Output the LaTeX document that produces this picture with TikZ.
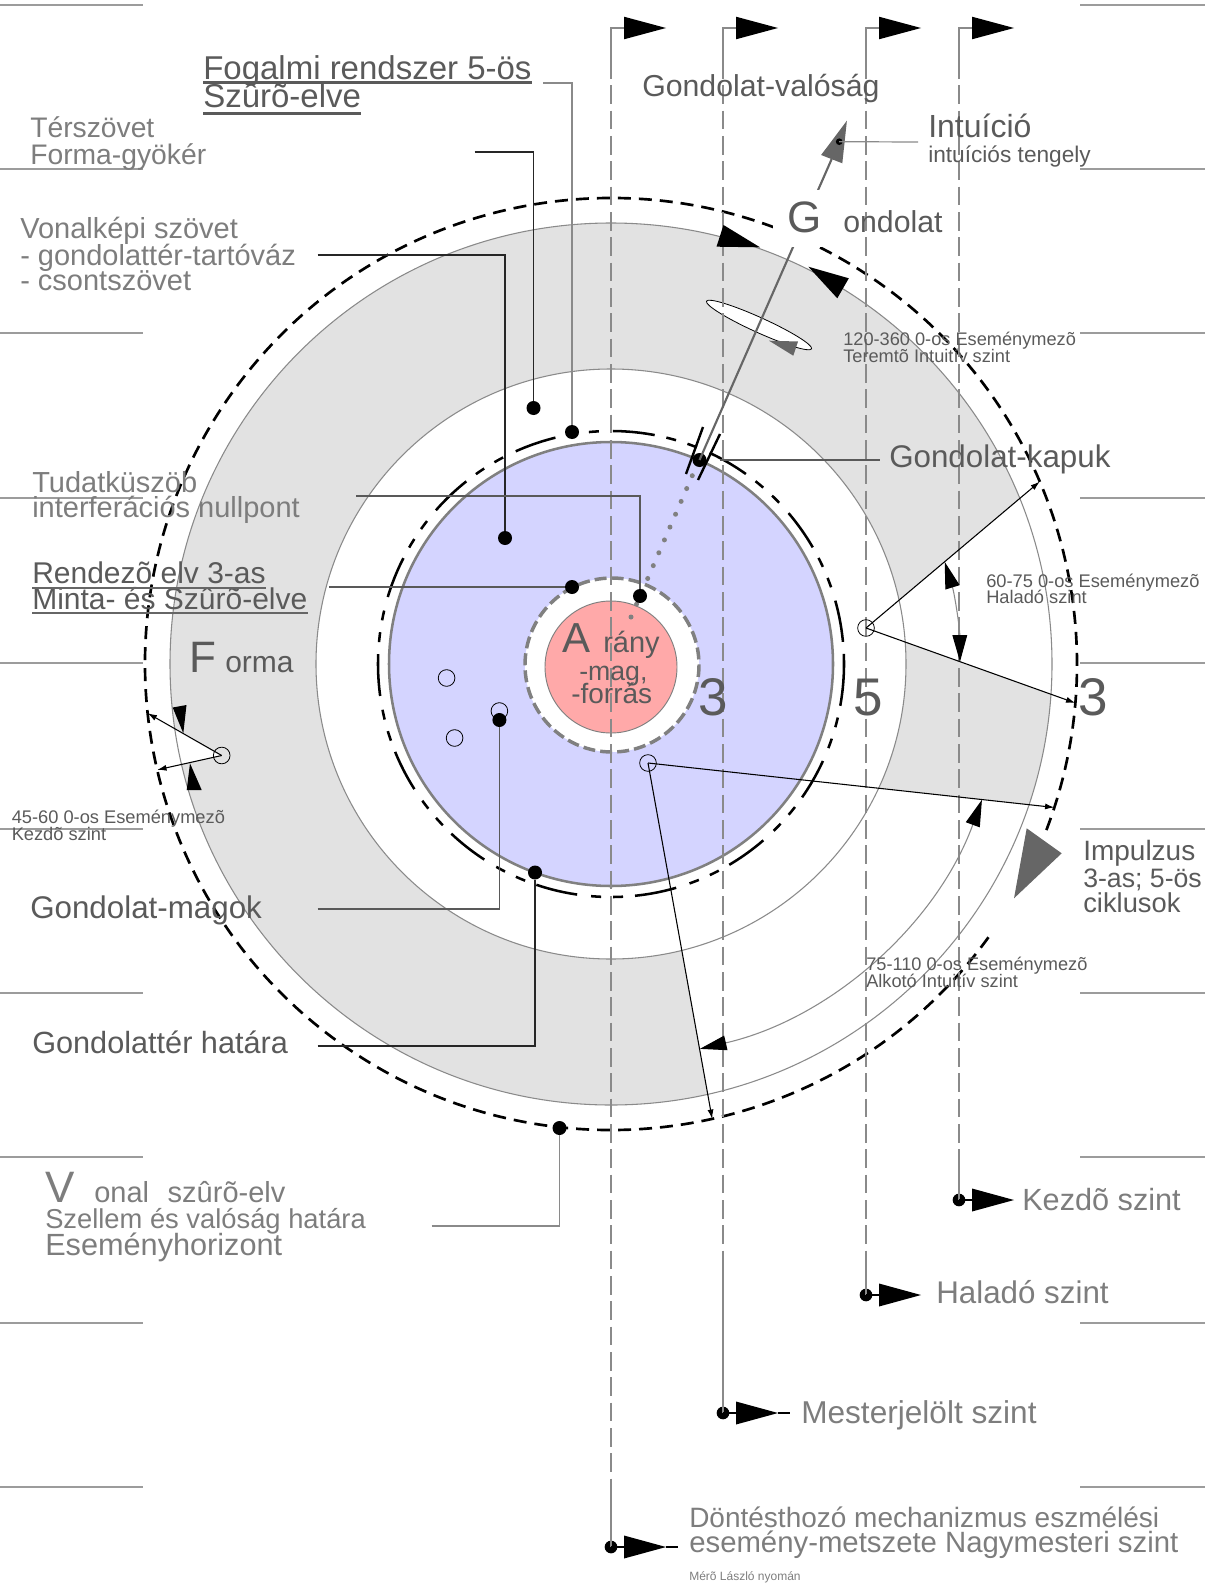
\documentclass[tikz,border=0pt]{standalone}
\usepackage{fontspec}
\setmainfont{Liberation Sans}
\usetikzlibrary{arrows.meta}
\definecolor{ringgrey}{HTML}{E2E2E2}
\definecolor{bluefill}{HTML}{D4D4FF}
\definecolor{pinkfill}{HTML}{FFA9A9}
\definecolor{tdark}{HTML}{5A5A5A}
\definecolor{tlight}{HTML}{7D7D7D}
\definecolor{lgrey}{HTML}{8A8A8A}
\definecolor{agrey}{HTML}{666666}
\newcommand\fsz[1]{\fontsize{#1}{#1}\selectfont}
\begin{document}
\begin{tikzpicture}[x=0.75pt,y=-0.75pt,
  lbl/.style={anchor=base west, inner sep=0pt, text=tdark},
  lbll/.style={anchor=base west, inner sep=0pt, text=tlight},
  dot/.style={circle, fill=black, inner sep=0pt, minimum size=10.5pt},
  sdot/.style={circle, fill=black, inner sep=0pt, minimum size=9.5pt},
  hollow/.style={circle, draw=black, line width=0.6pt, inner sep=0pt, minimum size=12.5pt},
  leadk/.style={draw=black!85, line width=0.9pt},
  leadg/.style={draw=lgrey, line width=0.9pt},
  leadd/.style={draw=black!65, line width=0.9pt},
  vline/.style={draw=lgrey, line width=1pt},
  vdash/.style={draw=lgrey, line width=1pt, dash pattern=on 14pt off 5pt},
  hline/.style={draw=lgrey!85, line width=1.3pt},
  ray/.style={draw=black, line width=0.8pt, -{Latex[length=7pt,width=4.5pt]}},
  arcarr/.style={draw=lgrey, line width=0.8pt, {Triangle[length=20pt,width=11pt,color=black]}-{Triangle[length=20pt,width=11pt,color=black]}},
]
\useasboundingbox (0,0) rectangle (1205,1584);
\coordinate (C) at (611,664);
\coordinate (P1) at (866,628);
\coordinate (P2) at (648,763);
\coordinate (P3) at (221.7,755.5);

% margin lines
\foreach \yy in {5,169,333,498,663,829,993,1157,1323,1487} {
  \draw[hline] (0,\yy) -- (143,\yy);
  \draw[hline] (1080,\yy) -- (1205,\yy);
}

% grey ring with white wedges
\fill[ringgrey] (C) circle[radius=441];
\fill[white] (P1) -- ([shift={(-23.05:466)}]C) arc[start angle=-23.05,end angle=4.8,radius=466] -- cycle;
\fill[white] (P2) -- ([shift={(17.93:466)}]C) arc[start angle=17.93,end angle=77.46,radius=466] -- cycle;
\fill[white] (P3) -- ([shift={(166.87:466)}]C) arc[start angle=166.87,end angle=173.94,radius=466] -- cycle;
\fill[white] (C) circle[radius=295];
\draw[lgrey, line width=0.8pt] (C) circle[radius=441];
\draw[lgrey, line width=0.8pt] (C) circle[radius=295];

% ellipse in ring
\draw[black, line width=0.6pt, fill=white, rotate around={-24.4:(759,325)}] (759,325) ellipse[x radius=57.7, y radius=7.5];
\fill[agrey] (769,340.7) -- (798,341.5) -- (793.3,355.7) -- cycle;

% blue circle and inner rings
\draw[draw=gray, line width=1.9pt, fill=bluefill] (C) circle[radius=222];
\draw[black, line width=1.9pt, dash pattern=on 31.5pt off 9pt on 7.5pt off 9pt on 7.5pt off 10.5pt] (C) circle[radius=233];
\node[hollow] (o1) at (446.6,678) {};
\node[hollow] (o2) at (454.6,738) {};
\node[hollow] (o3) at (499.4,711) {};
\draw[draw=gray, line width=2.6pt, fill=white, dash pattern=on 9pt off 3.8pt] (612,665) circle[radius=87];
\draw[draw=gray, line width=0.7pt, fill=pinkfill] (611,667) circle[radius=66];

% outer dashed circle (gap at Impulzus)
\draw[black, line width=2pt, dash pattern=on 9.75pt off 6pt] ([shift={(35.9:466)}]C) arc[start angle=35.9, end angle=381.2, radius=466];

% vertical level lines with flags
\foreach \x/\yb/\bs/\ext in {611/1547/1495/1, 723/1413/1257/1, 866/1295/1255/0, 959/1200/1150/0} {
  \node[sdot] (bd\x) at (\x,\yb) {};
  \draw[vline] (\x,60) -- (\x,28) -- ({\x+13},28);
  \fill ({\x+13},16.7) -- ({\x+55},28) -- ({\x+13},39.3) -- cycle;
  \draw[vdash] (\x,60) -- (\x,\bs);
  \draw[vline] (\x,\bs) -- (bd\x.center);
  \draw[black, line width=1pt] (bd\x.center) -- ({\x+13},\yb);
  \fill ({\x+13},{\yb-11.5}) -- ({\x+55},\yb) -- ({\x+13},{\yb+11.5}) -- cycle;
  \ifnum\ext=1 \draw[black, line width=1pt] ({\x+55},\yb) -- ({\x+67},\yb); \fi
}

% intuition axis
\node[dot] (gate) at (699.5,460) {};
\draw[gray, line width=3.75pt, line cap=round, dash pattern=on 0pt off 10.5pt] (631,617) -- (693,474);
\draw[agrey, line width=1.6pt] (gate.center) -- (831.7,159);
\draw[black, line width=1.8pt] (703,427) -- (686,474);
\draw[black, line width=1.8pt] (720,434) -- (698,480);
\fill[agrey] (846.9,120.7) -- (821.1,155) -- (842.3,163.3) -- cycle;
\node[circle, fill=black, inner sep=0pt, minimum size=5pt] (idot) at (839.2,141.7) {};
\coordinate (iL) at (918,142);
\draw[leadg] (idot.center) -- (iL);

% rays from small circles
\node[hollow] (h1) at (P1) {};
\node[hollow] (h2) at (P2) {};
\node[hollow] (h3) at (P3) {};
\draw[ray] (h1.center) -- ([shift={(-23.05:466)}]C);
\draw[ray] (h1.center) -- ([shift={(4.8:466)}]C);
\draw[ray] (h2.center) -- ([shift={(17.93:466)}]C);
\draw[ray] (h2.center) -- ([shift={(77.46:466)}]C);
\draw[ray] (h3.center) -- ([shift={(173.94:466)}]C);
\draw[ray] (h3.center) -- ([shift={(166.87:466)}]C);
\draw[arcarr] ([shift={(-17.02:349)}]C) arc[start angle=-17.02, end angle=-0.37, radius=349];
\draw[arcarr] ([shift={(20.1:395)}]C) arc[start angle=20.1, end angle=77.0, radius=395];
\fill (172.7,707.5) -- (186.5,705) -- (183.3,733.3) -- cycle;
\fill (186.7,790) -- (201.7,790) -- (190,763.3) -- cycle;

% arrows on outer ring and impulse arrow
\fill (716.5,246.7) -- (723.5,225) -- (760,247.3) -- cycle;
\fill (808.3,266.7) -- (848.8,278.3) -- (837.3,298.3) -- cycle;
\fill[agrey] (1026.7,828.3) -- (1061.7,853.3) -- (1014,898.3) -- cycle;

% dots and leaders
\node[dot] (dFog) at (572,432) {};
\node[dot] (dTer) at (533.5,408) {};
\node[dot] (dVon) at (505,538) {};
\node[dot] (dTud) at (640,596) {};
\node[dot] (dRen) at (572,587) {};
\node[dot] (dMag) at (499.4,720) {};
\node[dot] (dHat) at (535,872.5) {};
\node[dot] (dVsz) at (559.5,1128) {};
\coordinate (lFog) at (543,83);
\coordinate (lTer) at (474.5,152);
\coordinate (lVon) at (317.6,255);
\coordinate (lTud) at (356,496);
\coordinate (lRen) at (329,587);
\coordinate (lMag) at (317.6,909);
\coordinate (lHat) at (317.6,1046);
\coordinate (lVsz) at (431.7,1226);
\coordinate (lKap) at (720,460);
\coordinate (lKap2) at (880,460);
\draw[leadg] (lFog) -| (dFog);
\draw[leadk] (lTer) -| (dTer);
\draw[leadk] (lVon) -| (dVon);
\draw[leadd] (lTud) -| (dTud);
\draw[leadd] (lRen) -- (dRen);
\draw[leadd] (lMag) -| (dMag);
\draw[leadk] (lHat) -| (dHat);
\draw[leadg] (lVsz) -| (dVsz);
\draw[leadd] (lKap) -- (lKap2);

% mask behind G
\fill[white] (773,190) rectangle (822,247);

% texts
\node[lbl, font=\fsz{24.75pt}] (fog1) at (203,80) {Fogalmi rendszer 5-ös};
\node[lbl, font=\fsz{24.75pt}] (fog2) at (203,108) {Szûrõ-elve};
\draw[tdark, line width=2pt] ([yshift=-2pt]fog1.base west) -- ([yshift=-2pt]fog1.base east);
\draw[tdark, line width=2pt] ([yshift=-4pt]fog2.base west) -- ([yshift=-4pt]fog2.base east);

\node[lbll, font=\fsz{21.2pt}] (ter1) at (30,138) {Térszövet};
\node[lbll, font=\fsz{21.2pt}] (ter2) at (30,165) {Forma-gyökér};

\node[lbll, font=\fsz{21.75pt}] (von1) at (20,238) {Vonalképi szövet};
\node[lbll, font=\fsz{21.75pt}] (von2) at (20,265) {- gondolattér-tartóváz};
\node[lbll, font=\fsz{21.75pt}] (von3) at (20,290) {- csontszövet};

\node[lbll, font=\fsz{21.75pt}] (tud1) at (32,492) {Tudatküszöb};
\node[lbll, font=\fsz{21.75pt}] (tud2) at (32,517) {interferációs nullpont};

\node[lbl, font=\fsz{22.5pt}] (ren1) at (32,583) {Rendezõ elv 3-as};
\node[lbl, font=\fsz{22.5pt}] (ren2) at (32,609) {Minta- és Szûrõ-elve};
\draw[agrey, line width=2pt] ([yshift=-3.75pt]ren1.base west) -- ([yshift=-3.75pt]ren1.base east);
\draw[agrey, line width=2pt] ([yshift=-3pt]ren2.base west) -- ([yshift=-3pt]ren2.base east);

\node[lbl, font=\fsz{33pt}] (forF) at (189,672) {F};
\node[lbl, font=\fsz{22.5pt}] (forma) at (225,672) {orma};

\node[lbl, font=\fsz{23.5pt}] (magok) at (30,918) {Gondolat-magok};
\node[lbl, font=\fsz{23pt}] (hatara) at (32,1053) {Gondolattér határa};

\node[lbll, font=\fsz{33pt}] (vonV) at (45,1202) {V};
\node[lbll, font=\fsz{21.75pt}] (vonal) at (94,1202) {onal\hspace{14pt}szûrõ-elv};
\node[lbll, font=\fsz{20.5pt}] (szel) at (45,1228) {Szellem és valóság határa};
\node[lbll, font=\fsz{23pt}] (esem) at (45,1255) {Eseményhorizont};

\node[lbl, font=\fsz{22.7pt}] (valosag) at (642,97) {Gondolat-valóság};
\node[lbl, font=\fsz{24pt}] (intu) at (928,138) {Intuíció};
\node[lbl, font=\fsz{17pt}] (tengely) at (928,163) {intuíciós tengely};
\node[lbl, font=\fsz{33pt}] (gG) at (787,232) {G};
\node[lbl, font=\fsz{22.7pt}] (gond) at (843,232) {ondolat};

\node[lbl, font=\fsz{13.65pt}] (e120a) at (843,345) {120-360 0-os Eseménymezõ};
\node[lbl, font=\fsz{13.65pt}] (e120b) at (843,362) {Teremtõ Intuitív szint};
\node[lbl, font=\fsz{23.5pt}] (kapuk) at (889,467) {Gondolat-kapuk};
\node[lbl, font=\fsz{13.7pt}] (e60a) at (986,587) {60-75 0-os Eseménymezõ};
\node[lbl, font=\fsz{13.7pt}] (e60b) at (986,603) {Haladó szint};

\node[lbl, font=\fsz{39.75pt}] (n3a) at (698,715) {3};
\node[lbl, font=\fsz{39.75pt}] (n5) at (853,715) {5};
\node[lbl, font=\fsz{39.75pt}] (n3b) at (1078,715) {3};

\node[lbl, font=\fsz{31.5pt}] (cA) at (562,652) {A};
\node[lbl, font=\fsz{21.75pt}] (crany) at (603,652) {rány};
\node[lbl, font=\fsz{20pt}] (cmag) at (579,680) {-mag,};
\node[lbl, font=\fsz{21pt}] (cforr) at (571,703) {-forrás};

\node[lbl, font=\fsz{13.7pt}] (e45a) at (11.5,823) {45-60 0-os Eseménymezõ};
\node[lbl, font=\fsz{13.7pt}] (e45b) at (11.5,840) {Kezdõ szint};

\node[lbl, font=\fsz{21pt}] (imp1) at (1083,860) {Impulzus};
\node[lbl, font=\fsz{20pt}] (imp2) at (1083,887) {3-as; 5-ös};
\node[lbl, font=\fsz{20.5pt}] (imp3) at (1083,912) {ciklusok};

\node[lbl, font=\fsz{13.65pt}] (e75a) at (866,970) {75-110 0-os Eseménymezõ};
\node[lbl, font=\fsz{13.65pt}] (e75b) at (866,987) {Alkotó Intuitív szint};

\node[lbll, font=\fsz{23pt}] (kezdo) at (1022,1210) {Kezdõ szint};
\node[lbll, font=\fsz{23.5pt}] (halado) at (936,1303) {Haladó szint};
\node[lbll, font=\fsz{23.7pt}] (mester) at (801,1423) {Mesterjelölt szint};
\node[lbll, font=\fsz{21pt}] (dont1) at (689,1527) {Döntésthozó mechanizmus eszmélési};
\node[lbll, font=\fsz{22pt}] (dont2) at (689,1552) {esemény-metszete Nagymesteri szint};
\node[lbll, font=\fsz{9pt}] (mero) at (689,1580) {Mérõ László nyomán};
\end{tikzpicture}
\end{document}
